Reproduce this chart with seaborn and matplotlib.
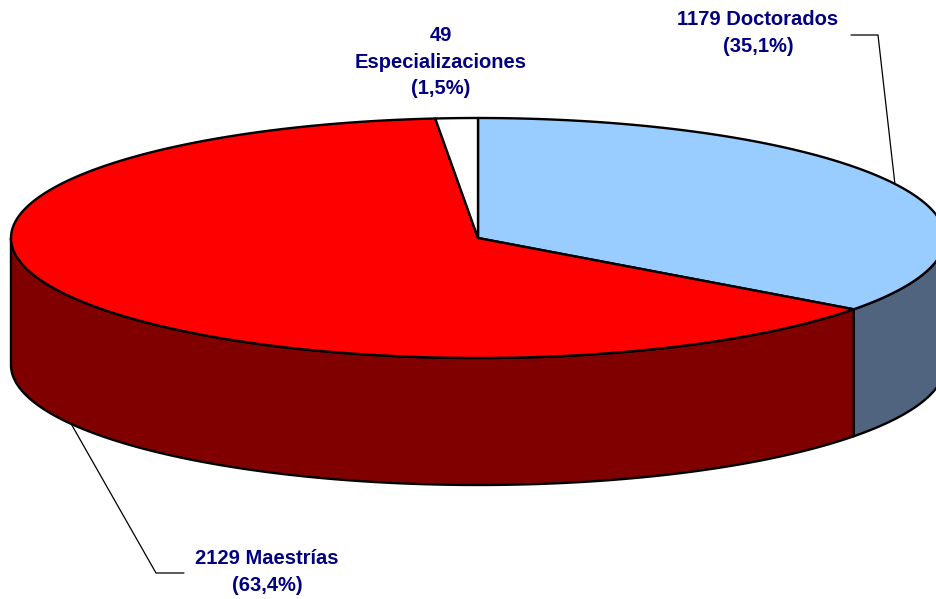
import numpy as np
import matplotlib
matplotlib.use("Agg")
import matplotlib.pyplot as plt
import seaborn as sns
from matplotlib.patches import Polygon

# Data
categories = ["Doctorados", "Maestrías", "Especializaciones"]
counts = [1179, 2129, 49]
pct_labels = ["35,1%", "63,4%", "1,5%"]
top_colors = ["#99CCFF", "#FF0000", "#FFFFFF"]
side_colors = ["#506480", "#800000", "#CCCCCC"]

sns.set_theme(style="white")
plt.rcParams['font.family'] = ['Liberation Sans', 'DejaVu Sans']

# Layout of the pseudo-3D pie (pixel space)
cx, cy = 478, 238
a, b = 467, 120
depth = 127

fig = plt.figure(figsize=(9.36, 5.99), dpi=100)
ax = fig.add_axes([0, 0, 1, 1])
ax.set_xlim(0, 936)
ax.set_ylim(599, 0)
ax.axis("off")

fracs = np.array(counts) / np.sum(counts)
# clockwise starting at 12 o'clock
starts = 90 - 360 * np.concatenate([[0], np.cumsum(fracs)[:-1]])
ends = starts - 360 * fracs


def ell(t, dy=0):
    t = np.radians(t)
    return cx + a * np.cos(t), cy - b * np.sin(t) + dy


# side walls (front half only: angles between -180 and 0)
for s, e, col in zip(starts, ends, side_colors):
    lo, hi = max(e, -180), min(s, 0)
    if lo >= hi:
        continue
    t = np.linspace(hi, lo, 200)
    xt, yt = ell(t)
    xb, yb = ell(t[::-1], depth)
    pts = np.column_stack([np.concatenate([xt, xb]), np.concatenate([yt, yb])])
    ax.add_patch(Polygon(pts, closed=True, facecolor=col, edgecolor="black",
                         lw=1.7, joinstyle="round", zorder=1))

# top faces
for s, e, col in zip(starts, ends, top_colors):
    t = np.linspace(s, e, 400)
    xt, yt = ell(t)
    pts = np.column_stack([np.concatenate([[cx], xt]), np.concatenate([[cy], yt])])
    ax.add_patch(Polygon(pts, closed=True, facecolor=col, edgecolor="black",
                         lw=1.7, joinstyle="round", zorder=2))

mids = (starts + ends) / 2
label_color = "#000080"
fs = 14.5
ls = 1.5

# Doctorados label with leader line
mx, my = ell(mids[0])
ax.plot([851, 878, mx], [35, 35, my], color="black", lw=0.9, zorder=3)
ax.text(758, 33, f"{counts[0]} {categories[0]}\n({pct_labels[0]})", ha="center", va="center",
        color=label_color, fontsize=fs, fontweight="bold", linespacing=ls)

# Maestrías label with leader line
mx, my = ell(mids[1], depth)
ax.plot([mx, 156, 184], [my, 573, 573], color="black", lw=0.9, zorder=3)
ax.text(267, 572, f"{counts[1]} {categories[1]}\n({pct_labels[1]})", ha="center", va="center",
        color=label_color, fontsize=fs, fontweight="bold", linespacing=ls)

# Especializaciones label
ax.text(441, 62, f"{counts[2]}\n{categories[2]}\n({pct_labels[2]})", ha="center", va="center",
        color=label_color, fontsize=fs, fontweight="bold", linespacing=ls)

fig.savefig("out.png", dpi=100)
